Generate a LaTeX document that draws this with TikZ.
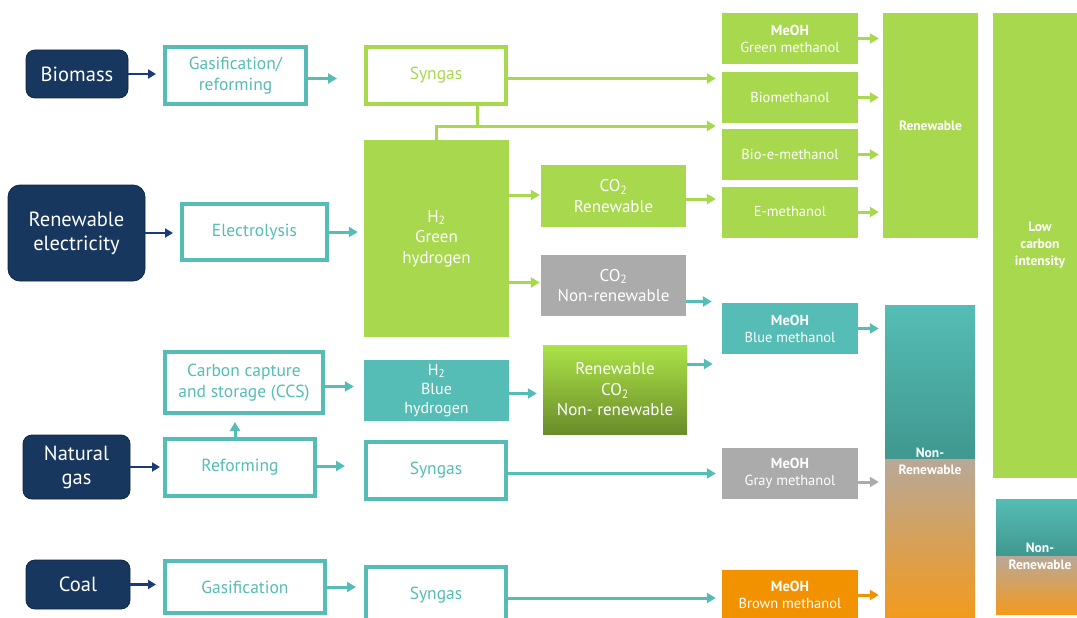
\documentclass[tikz,border=0pt]{standalone}
\usepackage{fontspec}
\setmainfont{PT Sans}
\usetikzlibrary{arrows.meta,calc}
\definecolor{cnavy}{HTML}{17375E}
\definecolor{cnavyd}{HTML}{0F2742}
\definecolor{carrnavy}{HTML}{1B3A7A}
\definecolor{cteal}{HTML}{55BDB5}
\definecolor{cdteal}{HTML}{2A7168}
\definecolor{cgreen}{HTML}{A8D84E}
\definecolor{cgreenT}{HTML}{ACE348}
\definecolor{cgreenB}{HTML}{6A8C2A}
\definecolor{cgray}{HTML}{ABABAB}
\definecolor{corange}{HTML}{F39200}
\definecolor{ctan}{HTML}{B8A898}
\definecolor{corangeB}{HTML}{F29A1E}
\begin{document}
\begin{tikzpicture}[x=1pt,y=-1pt,
  src/.style={fill=cnavy,draw=cnavyd,line width=0.8pt,rounded corners=9pt,text=white,
    font=\fontsize{20.5}{24}\selectfont,align=center,inner sep=0pt},
  tealout/.style={draw=cteal,line width=4pt,fill=white,text=cteal,
    font=\fontsize{17.5}{21}\selectfont,align=center,inner sep=0pt},
  greenout/.style={tealout,draw=cgreen,text=cgreen},
  midbox/.style={text=white,font=\fontsize{17}{20.5}\selectfont,align=center,inner sep=0pt},
  methbox/.style={text=white,font=\fontsize{14.5}{17}\selectfont,align=center,inner sep=0pt,
    minimum width=136pt,minimum height=51pt},
  colbox/.style={text=white,font=\bfseries\fontsize{13.5}{17}\selectfont,align=center,inner sep=0pt},
  arrbase/.style={line width=3pt,-{Triangle[length=9pt,width=10pt]}},
  tarr/.style={arrbase,draw=cteal},
  garr/.style={arrbase,draw=cgreen},
  grarr/.style={arrbase,draw=cgray},
  oarr/.style={arrbase,draw=corange},
  narr/.style={line width=2.5pt,draw=carrnavy,-{Triangle[length=8pt,width=9pt]}},
  gline/.style={line width=3pt,draw=cgreen},
  nonren/.style={fill=white,path picture={
    \shade[top color=cteal,bottom color=cdteal] (path picture bounding box.north west) rectangle ([yshift=#1]path picture bounding box.east);
    \shade[top color=ctan,bottom color=corangeB] ([yshift=#1]path picture bounding box.west) rectangle (path picture bounding box.south east);}}
]
\useasboundingbox (0,0) rectangle (1077,618);
\clip (0,0) rectangle (1077,618);

% sources
\node[src,minimum width=102pt,minimum height=48pt] (bio) at (77,74) {Biomass};
\node[src,rounded corners=12pt,minimum width=137pt,minimum height=96pt] (relec) at (76.5,233) {Renewable\\electricity};
\node[src,minimum width=107pt,minimum height=64pt] (ngas) at (76.5,467) {Natural\\gas};
\node[src,minimum width=104pt,minimum height=49pt] (coal) at (78,584.5) {Coal};

% processes
\node[tealout,minimum width=141pt,minimum height=57pt] (gasref) at (235.5,75.5) {Gasification/\\reforming};
\node[tealout,minimum width=145pt,minimum height=56pt] (elec) at (254.5,232) {Electrolysis};
\node[tealout,minimum width=158pt,minimum height=61pt] (ccs) at (244,382.5) {Carbon capture\\and storage (CCS)};
\node[tealout,minimum width=150pt,minimum height=57pt] (reform) at (240,467.5) {Reforming};
\node[tealout,minimum width=160pt,minimum height=52pt] (gasif) at (245,587) {Gasification};

% syngas
\node[greenout,minimum width=140pt,minimum height=57pt] (syn1) at (436,75.5) {Syngas};
\node[tealout,minimum width=140pt,minimum height=57pt] (syn2) at (436,470.5) {Syngas};
\node[tealout,minimum width=140pt,minimum height=57pt] (syn3) at (436,595) {Syngas};

% middle
\node[midbox,fill=cgreen,minimum width=145pt,minimum height=197pt] (h2g) at (436.5,238.5) {H\textsubscript{2}\\Green\\hydrogen};
\node[midbox,fill=cgreen,minimum width=145pt,minimum height=62pt] (co2r) at (613.5,196) {CO\textsubscript{2}\\Renewable};
\node[midbox,fill=cgray,minimum width=145pt,minimum height=61pt] (co2n) at (613.5,285.5) {CO\textsubscript{2}\\Non-renewable};
\node[midbox,fill=cteal,font=\fontsize{16}{19}\selectfont,minimum width=145pt,minimum height=61pt] (h2b) at (436.5,390.5) {H\textsubscript{2}\\Blue\\hydrogen};
\node[midbox,top color=cgreenT,bottom color=cgreenB,minimum width=144pt,minimum height=89pt] (rco2) at (615,389.5) {Renewable\\CO\textsubscript{2}\\Non- renewable};

% methanol
\node[methbox,fill=cgreen] (mg) at (790,38.5) {\textbf{MeOH}\\Green methanol};
\node[methbox,fill=cgreen] (bm) at (790,97.5) {Biomethanol};
\node[methbox,fill=cgreen] (bem) at (790,154.5) {Bio-e-methanol};
\node[methbox,fill=cgreen] (em) at (790,212) {E-methanol};
\node[methbox,fill=cteal] (mb) at (790,328.5) {\textbf{MeOH}\\Blue methanol};
\node[methbox,fill=cgray] (mgr) at (790,473.5) {\textbf{MeOH}\\Gray methanol};
\node[methbox,fill=corange] (mbr) at (790,595) {\textbf{MeOH}\\Brown methanol};

% columns
\node[colbox,fill=cgreen,minimum width=95pt,minimum height=225pt] (ren) at (930.5,125.5) {Renewable};
\node[colbox,fill=cgreen,minimum width=94pt,minimum height=465pt] (lci) at (1040,245.5) {Low\\carbon\\intensity};
\node[colbox,nonren=2pt,minimum width=90pt,minimum height=312pt] (nr1) at (930,461) {Non-\\Renewable};
\node[colbox,nonren=0pt,minimum width=88pt,minimum height=115pt] (nr2) at (1040,556.5) {Non-\\Renewable};

% arrows: sources
\draw[narr,shorten >=7pt] (bio.east) -- (bio.east -| gasref.west);
\draw[narr,shorten >=7pt] (relec.east) -- (relec.east -| elec.west);
\draw[narr,shorten >=3pt] (ngas.east) -- (ngas.east -| reform.west);
\draw[narr,shorten >=7pt] (coal.east) -- (coal.east -| gasif.west);

% processes
\draw[tarr,shorten >=27pt] ([yshift=-3pt]gasref.east) -- ([yshift=-3pt]gasref.east -| syn1.west);
\draw[tarr,shorten >=6pt] (elec.east) -- (elec.east -| h2g.west);
\draw[tarr,shorten >=10pt] ([yshift=-4pt]ccs.east) -- ([yshift=-4pt]ccs.east -| h2b.west);
\draw[tarr,shorten >=7pt] ([xshift=-5pt]reform.north) -- ([xshift=-5pt]reform.north |- ccs.south);
\draw[tarr,shorten >=19pt] ([yshift=1.5pt]reform.east) -- ([yshift=1.5pt]reform.east -| syn2.west);
\draw[tarr,shorten >=8pt] (gasif.east) -- (gasif.east -| syn3.west);

% syngas outputs
\draw[garr,shorten >=6pt] ([yshift=-3pt]syn1.east) -- ([yshift=-3pt]syn1.east -| bm.west);
\coordinate (j) at (477,126);
\draw[gline] (syn1.south -| j) -- (j);
\draw[gline] (j) -| (h2g.north);
\draw[garr,shorten >=6pt] (j) -- (j -| bm.west);
\draw[tarr,shorten >=6pt] ([yshift=-3pt]syn2.east) -- ([yshift=-3pt]syn2.east -| mgr.west);
\draw[tarr,shorten >=6pt] ([yshift=-3pt]syn3.east) -- ([yshift=-3pt]syn3.east -| mbr.west);

% hydrogen / co2
\draw[garr,shorten >=1pt] ([yshift=1pt]co2r.west -| h2g.east) -- ([yshift=1pt]co2r.west);
\draw[garr,shorten >=1pt] ([yshift=3pt]co2n.west -| h2g.east) -- ([yshift=3pt]co2n.west);
\draw[tarr,shorten >=6pt] ([yshift=-3pt]h2b.east) -- ([yshift=-3pt]h2b.east -| rco2.west);
\draw[garr,shorten >=6pt] ([yshift=-3pt]co2r.east) -- ([yshift=-3pt]co2r.east -| em.west);
\draw[tarr,shorten >=10pt] ([yshift=-16pt]co2n.east) -- ([yshift=-16pt]co2n.east -| mb.west);
\draw[tarr,shorten >=9pt] ([yshift=25.5pt]rco2.east) -- ([yshift=25.5pt]rco2.east -| mb.west);

% methanol to columns
\draw[garr,shorten >=4pt] (mg.east) -- (mg.east -| ren.west);
\draw[garr,shorten >=4pt] (bm.east) -- (bm.east -| ren.west);
\draw[garr,shorten >=4pt] (bem.east) -- (bem.east -| ren.west);
\draw[garr,shorten >=4pt] (em.east) -- (em.east -| ren.west);
\draw[tarr,shorten >=6pt] (mb.east) -- (mb.east -| nr1.west);
\draw[grarr,shorten >=6pt] ([yshift=-8.5pt]mgr.east) -- ([yshift=-8.5pt]mgr.east -| nr1.west);
\draw[oarr,shorten >=6pt] (mbr.east) -- (mbr.east -| nr1.west);
\end{tikzpicture}
\end{document}
